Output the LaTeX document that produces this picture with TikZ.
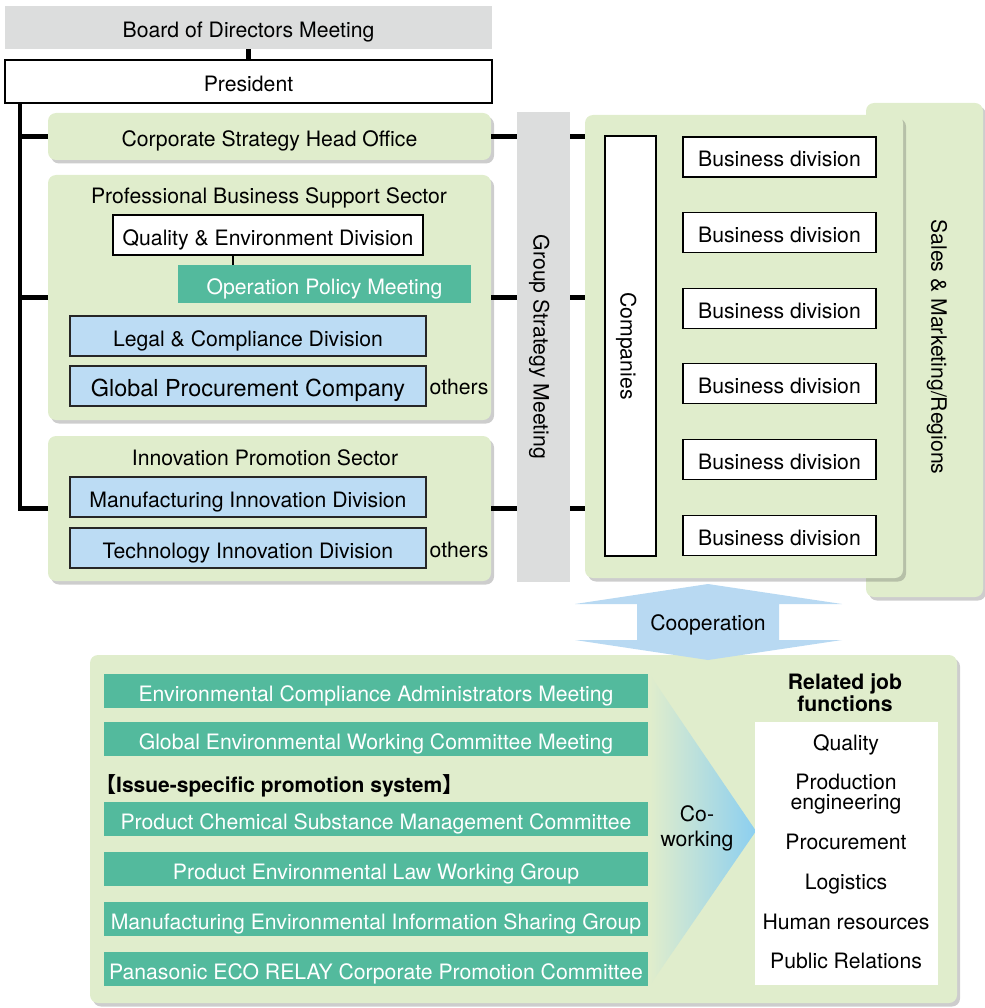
\documentclass[tikz,border=0pt]{standalone}
\usepackage{fontspec}
\setmainfont{TeX Gyre Heros}
\newfontfamily\cjkfont{Noto Sans CJK JP}
\usetikzlibrary{shadows}
\definecolor{pgreen}{HTML}{E0EDCC}
\definecolor{tealbox}{HTML}{53BA9D}
\definecolor{boxblue}{HTML}{BCDCF4}
\definecolor{barGray}{HTML}{DCDDDD}
\definecolor{arrowblue}{HTML}{B8D9F2}
\definecolor{coblue}{HTML}{8CCFF0}
\tikzset{
  every node/.style={font=\fontsize{21.2}{25}\selectfont, inner sep=0pt},
  boxtxt/.style={text height=21pt, text depth=1pt},
  capc/.style={text height=15.2pt, text depth=0pt},
  panel/.style={fill=pgreen, rounded corners=8pt, draw=none, boxtxt,
    drop shadow={shadow xshift=3pt, shadow yshift=-3.5pt, opacity=0.28, fill=black!70}},
  graybar/.style={fill=barGray, draw=none, boxtxt},
  wbox/.style={draw=black, line width=1.2pt, fill=white, boxtxt},
  bbox/.style={draw=black!85, line width=1.4pt, fill=boxblue, boxtxt},
  tbox/.style={fill=tealbox, text=white, draw=none, boxtxt},
  bus/.style={line width=4.5pt},
  thinline/.style={line width=1.5pt}
}
\begin{document}
\begin{tikzpicture}[x=1pt,y=-1pt]
\useasboundingbox (0,0) rectangle (984,1008);

% top
\node[graybar, minimum width=487pt, minimum height=43pt] (board) at (248.5,27.5) {Board of Directors Meeting};
\node[wbox, minimum width=487pt, minimum height=43pt] (pres) at (248.5,81.5) {President};
\draw[bus] (board.south) -- (pres.north);

% sales & marketing panel (behind)
\node[panel, minimum width=117pt, minimum height=494pt] (sales) at (924.5,350) {};
\node[rotate=-90, capc] (salestxt) at (939,347) {Sales \& Marketing/Regions};

% left panels
\node[panel, minimum width=443pt, minimum height=47pt] (csho) at (269.5,136.5) {Corporate Strategy Head Office};
\node[panel, minimum width=443pt, minimum height=245pt] (pbss) at (269.5,297.5) {};
\node[capc] (pbsst) at (269,196) {Professional Business Support Sector};
\node[wbox, minimum width=310pt, minimum height=40pt] (qed) at (268,235) {Quality \& Environment Division};
\node[tbox, minimum width=293pt, minimum height=38pt] (opm) at (324.5,284) {Operation Policy Meeting};
\draw[thinline] (qed.south -| 233,0) -- (opm.north -| 233,0);
\node[bbox, minimum width=356pt, minimum height=40pt] (lcd) at (248,336) {Legal \& Compliance Division};
\node[bbox, minimum width=356pt, minimum height=40pt, font=\fontsize{23.4}{27}\selectfont] (gpc) at (248,386) {Global Procurement Company};
\node[capc] (oth1) at (459,387) {others};

\node[panel, minimum width=443pt, minimum height=145pt] (ips) at (269.5,508.5) {};
\node[capc] (ipst) at (265,458) {Innovation Promotion Sector};
\node[bbox, minimum width=356pt, minimum height=40pt] (mid) at (248,497) {Manufacturing Innovation Division};
\node[bbox, minimum width=356pt, minimum height=40pt] (tid) at (248,548) {Technology Innovation Division};
\node[capc] (oth2) at (459,550) {others};

% group strategy meeting
\node[graybar, rotate=-90, minimum width=470pt, minimum height=53pt] (gsm) at (543.5,347) {Group Strategy Meeting};

% companies
\node[panel, minimum width=318pt, minimum height=463pt] (comp) at (744,346.5) {};
\node[wbox, rotate=-90, minimum width=420pt, minimum height=51pt] (compbox) at (630.5,346) {Companies};
\foreach \i/\yy in {1/157,2/232.5,3/308.5,4/383.5,5/459.5,6/535.5}{
  \node[wbox, minimum width=193pt, minimum height=40pt] (bd\i) at (779.5,\yy) {Business division};
}

% bus lines
\coordinate (bx) at (20,0);
\draw[bus] (pres.south -| bx) |- (ips.west);
\draw[bus] (csho.west -| bx) -- (csho.west);
\draw[bus] (pbss.west -| bx) -- (pbss.west);
\foreach \p in {csho,pbss,ips}{
  \draw[bus] (\p.east) -- (\p.east -| gsm.south);
  \draw[bus] (\p.east -| gsm.north) -- (\p.east -| comp.west);
}

% bottom panel
\node[panel, minimum width=867pt, minimum height=348pt] (bottom) at (523.5,829) {};
\node[tbox, minimum width=544pt, minimum height=34pt] (m1) at (376,691) {Environmental Compliance Administrators Meeting};
\node[tbox, minimum width=544pt, minimum height=34pt] (m2) at (376,739) {Global Environmental Working Committee Meeting};
\node[anchor=west, capc, font=\fontsize{21}{25}\selectfont\bfseries] (issue) at (95,785) {{\cjkfont 【}Issue-specific promotion system{\cjkfont 】}};
\node[tbox, minimum width=544pt, minimum height=34pt] (m3) at (376,819) {Product Chemical Substance Management Committee};
\node[tbox, minimum width=544pt, minimum height=34pt] (m4) at (376,869) {Product Environmental Law Working Group};
\node[tbox, minimum width=544pt, minimum height=34pt] (m5) at (376,919) {Manufacturing Environmental Information Sharing Group};
\node[tbox, minimum width=544pt, minimum height=34pt] (m6) at (376,969) {Panasonic ECO RELAY Corporate Promotion Committee};

\shade[left color=pgreen, right color=coblue] (650,675) -- (756,831) -- (650,985) -- cycle;
\node[align=center] (cowork) at (697,828) {Co-\\working};

\node[align=center, font=\fontsize{21.2}{22}\selectfont\bfseries] (rjf) at (845,693) {Related job\\functions};
\node[fill=white, minimum width=183pt, minimum height=263pt] (jobs) at (846.5,853.5) {};
\node[capc] (j1) at (846,743) {Quality};
\node[align=center, font=\fontsize{21.2}{20}\selectfont] (j2) at (846,794) {Production\\engineering};
\node[capc] (j3) at (846,842) {Procurement};
\node[capc] (j4) at (846,882) {Logistics};
\node[capc] (j5) at (846,922) {Human resources};
\node[capc] (j6) at (846,961) {Public Relations};

% cooperation arrow
\fill[arrowblue] (708,584) -- (842,604) -- (779,604) -- (779,640) -- (842,640) -- (708,660)
  -- (575,640) -- (637,640) -- (637,604) -- (575,604) -- cycle;
\node[capc] (coop) at (708,623) {Cooperation};
\end{tikzpicture}
\end{document}
